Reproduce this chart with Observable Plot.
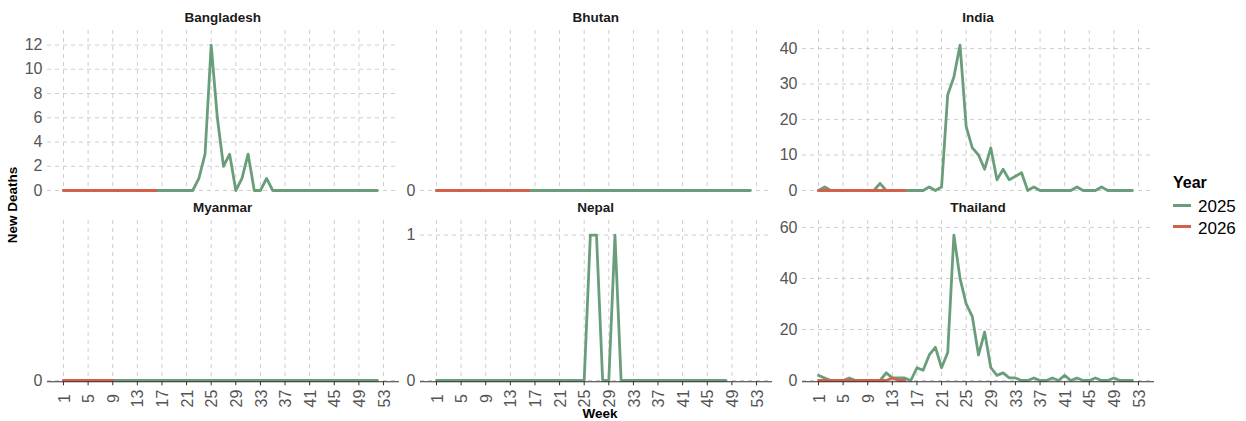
<!DOCTYPE html>
<html>
<head>
<meta charset="utf-8">
<script src="https://cdn.jsdelivr.net/npm/d3@7"></script>
<script src="https://cdn.jsdelivr.net/npm/@observablehq/plot@0.6"></script>
<style>
  body { margin: 0; background: #ffffff; font-family: "Liberation Sans", Arial, sans-serif; }
  #chart { position: relative; width: 1246px; height: 421px; overflow: hidden; background: #fff; }
  #chart svg { position: absolute; overflow: visible; }
  .lbl { position: absolute; line-height: 1; white-space: nowrap; transform: translate(-50%, -50%); }
  .strip { font-weight: bold; font-size: 13.5px; color: #1a1a1a; }
  .axtitle { font-weight: bold; font-size: 13.5px; color: #000; }
  .leg { position: absolute; line-height: 1; white-space: nowrap; transform: translateY(-50%); }
</style>
</head>
<body>
<div id="chart"></div>
<script>
// ---------------- DATA ----------------
const countries = ["Bangladesh", "Bhutan", "India", "Myanmar", "Nepal", "Thailand"];
const years = ["2025", "2026"];
const weeks = [1,2,3,4,5,6,7,8,9,10,11,12,13,14,15,16,17,18,19,20,21,22,23,24,25,26,
               27,28,29,30,31,32,33,34,35,36,37,38,39,40,41,42,43,44,45,46,47,48,49,50,51,52];
const weekTicks = [1, 5, 9, 13, 17, 21, 25, 29, 33, 37, 41, 45, 49, 53];

const bangladesh2025 = [0,0,0,0,0,0,0,0,0,0,0,0,0,0,0,0,0,0,0,0,0,0,1,3,12,6,
                        2,3,0,1,3,0,0,1,0,0,0,0,0,0,0,0,0,0,0,0,0,0,0,0,0,0];
const bangladesh2026 = [0,0,0,0,0,0,0,0,0,0,0,0,0,0,0,0];
const bhutan2025 = [0,0,0,0,0,0,0,0,0,0,0,0,0,0,0,0,0,0,0,0,0,0,0,0,0,0,
                    0,0,0,0,0,0,0,0,0,0,0,0,0,0,0,0,0,0,0,0,0,0,0,0,0,0];
const bhutan2026 = [0,0,0,0,0,0,0,0,0,0,0,0,0,0,0,0];
const india2025 = [0,1,0,0,0,0,0,0,0,0,2,0,0,0,0,0,0,0,1,0,1,27,32,41,18,12,
                   10,6,12,3,6,3,4,5,0,1,0,0,0,0,0,0,1,0,0,0,1,0,0,0,0,0];
const india2026 = [0,0,0,0,0,0,0,0,0,0,0,0,0,0,0];
const myanmar2025 = [0,0,0,0,0,0,0,0,0,0,0,0,0,0,0,0,0,0,0,0,0,0,0,0,0,0,
                     0,0,0,0,0,0,0,0,0,0,0,0,0,0,0,0,0,0,0,0,0,0,0,0,0,0];
const myanmar2026 = [0,0,0,0,0,0,0,0,0];
const nepal2025 = [0,0,0,0,0,0,0,0,0,0,0,0,0,0,0,0,0,0,0,0,0,0,0,0,0,1,
                   1,0,0,1,0,0,0,0,0,0,0,0,0,0,0,0,0,0,0,0,0,0];
const nepal2026 = [];
const thailand2025 = [2,1,0,0,0,1,0,0,0,0,0,3,1,1,1,0,5,4,10,13,5,11,57,40,30,25,
                      10,19,5,2,3,1,1,0,0,1,0,0,1,0,2,0,1,0,0,1,0,0,1,0,0,0];
const thailand2026 = [0,0,0,0,0,0,0,0,0,0,0,0,1,0,0];

const yTicksBangladesh = [0, 2, 4, 6, 8, 10, 12];
const yTicksBhutan = [0];
const yTicksIndia = [0, 10, 20, 30, 40];
const yTicksMyanmar = [0];
const yTicksNepal = [0, 1];
const yTicksThailand = [0, 20, 40, 60];

const yearColors = ["#6a9e7b", "#d4604a"];

// ---------------- LAYOUT ----------------
const series = {
  Bangladesh: [bangladesh2025, bangladesh2026, yTicksBangladesh],
  Bhutan: [bhutan2025, bhutan2026, yTicksBhutan],
  India: [india2025, india2026, yTicksIndia],
  Myanmar: [myanmar2025, myanmar2026, yTicksMyanmar],
  Nepal: [nepal2025, nepal2026, yTicksNepal],
  Thailand: [thailand2025, thailand2026, yTicksThailand]
};
const colLeft = [46.7, 419.7, 802];
const rowTop = [30, 220];
const PW = 352, PH = 160;
const gridStyle = {stroke: "#cfcfcf", strokeOpacity: 1, strokeWidth: 1, strokeDasharray: "4,4"};
const font = '"Liberation Sans", Arial, sans-serif';
const tickColor = "#555555";

const chart = document.getElementById("chart");

function addLabel(text, cls, x, y, extra) {
  const d = document.createElement("div");
  d.className = "lbl " + cls;
  d.textContent = text;
  d.style.left = x + "px";
  d.style.top = y + "px";
  if (extra) Object.assign(d.style, extra);
  chart.appendChild(d);
}

countries.forEach((name, i) => {
  const col = i % 3, row = Math.floor(i / 3);
  const [s25, s26, yTicks] = series[name];
  const rows25 = s25.map((v, j) => ({week: weeks[j], deaths: v, year: years[0]}));
  const rows26 = s26.map((v, j) => ({week: weeks[j], deaths: v, year: years[1]}));
  const maxV = d3.max(s25.concat(s26));
  const yMax = maxV > 0 ? maxV * 1.1 : 1;
  const ml = 45, mr = 2, mt = 6, mb = row === 1 ? 42 : 6;
  const bottom = row === 1;
  const plot = Plot.plot({
    width: ml + PW + mr,
    height: mt + PH + mb,
    marginLeft: ml, marginRight: mr, marginTop: mt, marginBottom: mb,
    style: {fontFamily: font, background: "transparent", overflow: "visible"},
    x: {domain: [-1.6, 55.6], axis: null},
    y: {domain: [0, yMax], axis: null},
    color: {domain: years, range: yearColors},
    marks: [
      Plot.gridX(weekTicks, gridStyle),
      Plot.gridY(yTicks, gridStyle),
      Plot.axisY(yTicks, {tickSize: 0, tickPadding: 5, fontSize: 16, fill: tickColor, label: null,
                          tickFormat: d => String(d)}),
      Plot.line(rows25, {x: "week", y: "deaths", stroke: "year", strokeWidth: 2.8}),
      Plot.line(rows26, {x: "week", y: "deaths", stroke: "year", strokeWidth: 2.8}),
      bottom ? Plot.ruleY([0], {stroke: "#333333", strokeWidth: 1.1, dy: 1.3}) : null,
      bottom ? Plot.axisX(weekTicks, {tickSize: 4, tickFormat: () => "", stroke: "#333333", label: null, dy: 1.3}) : null,
      bottom ? Plot.text(weekTicks, {x: d => d, text: d => String(d), frameAnchor: "bottom", dy: 18, dx: 1,
                                       rotate: -90, textAnchor: "middle", lineAnchor: "middle",
                                       fontSize: 16, fill: tickColor}) : null
    ]
  });
  plot.style.left = (colLeft[col] - ml) + "px";
  plot.style.top = (rowTop[row] - mt) + "px";
  chart.appendChild(plot);
  addLabel(name, "strip", colLeft[col] + PW / 2, row === 0 ? 18 : 208);
});

// axis titles
addLabel("Week", "axtitle", 600, 413.5);
addLabel("New Deaths", "axtitle", 13, 205, {transform: "translate(-50%, -50%) rotate(-90deg)"});

// legend
const yl = document.createElement("div");
yl.className = "leg";
yl.textContent = "Year";
Object.assign(yl.style, {left: "1173px", top: "182.5px", fontWeight: "bold", fontSize: "16px", color: "#000"});
chart.appendChild(yl);
years.forEach((yr, k) => {
  const cy = 205 + k * 21.5;
  const sw = document.createElement("div");
  Object.assign(sw.style, {position: "absolute", left: "1173px", top: (cy - 1.5) + "px", width: "18px", height: "3px",
                           background: yearColors[k]});
  chart.appendChild(sw);
  const t = document.createElement("div");
  t.className = "leg";
  t.textContent = yr;
  Object.assign(t.style, {left: "1198px", top: (cy + 1) + "px", fontSize: "17px", color: "#000"});
  chart.appendChild(t);
});
</script>
</body>
</html>
